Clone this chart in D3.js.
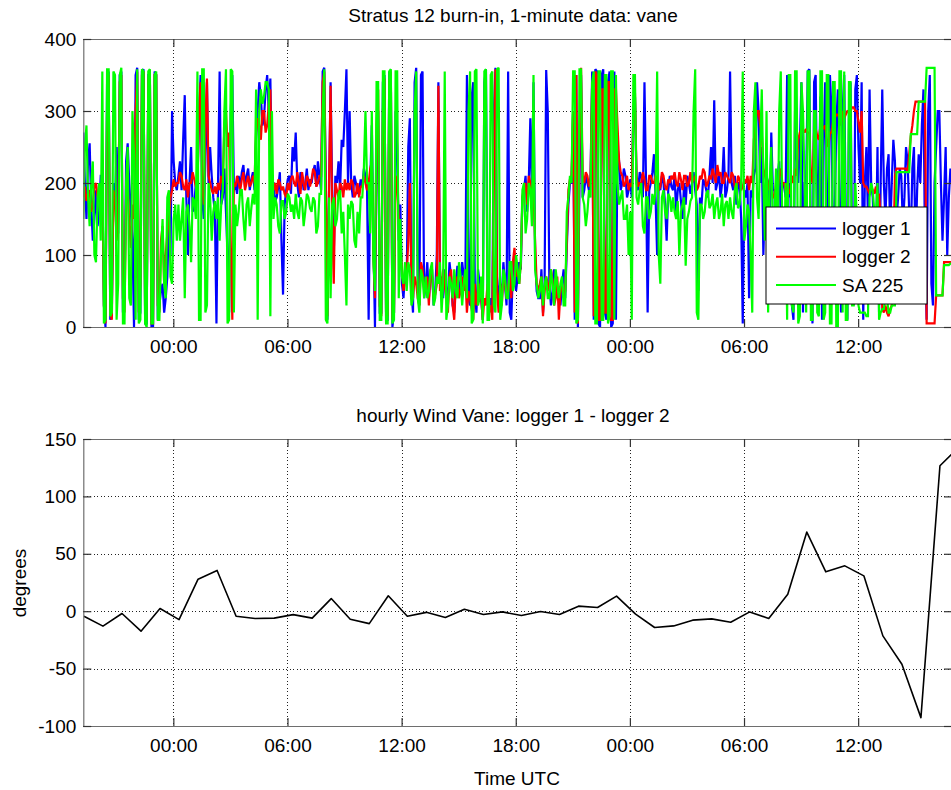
<!DOCTYPE html>
<html>
<head>
<meta charset="utf-8">
<script src="https://cdn.jsdelivr.net/npm/d3@7"></script>
<style>
  html, body { margin: 0; padding: 0; background: #fff; }
  svg { display: block; font-family: "Liberation Sans", Arial, Helvetica, sans-serif; }
</style>
</head>
<body>
<svg id="chart" width="951" height="790"></svg>
<script>
// ---------------- DATA ----------------
// 1-minute vane data read every 5 minutes, starting 19:16 UTC day 1 (degrees); one line = one hour
const seriesNames = ["logger 1", "logger 2", "SA 225"];
const seriesColors = ["#0000ff", "#ff0000", "#00ff00"];
const minuteStart = Date.UTC(2012, 0, 9, 19, 16);
const minuteStepMin = 5;

const logger1 = [
  270,200,150,230,255,170,120,150,190,140,160,210,
  210,30,0,340,355,10,20,200,170,250,130,350,
  355,20,40,230,255,200,160,120,0,350,360,10,
  20,355,358,5,5,350,350,0,0,355,350,10,
  30,50,60,20,40,70,150,100,300,230,200,190,
  210,230,190,260,322,180,100,200,250,160,170,200,
  200,290,350,180,150,230,340,200,250,210,180,160,
  5,200,355,170,180,220,160,100,20,300,350,190,
  200,185,210,195,215,225,195,210,220,190,205,215,
  190,260,300,340,320,280,290,330,350,300,345,200,
  200,175,180,195,215,120,45,170,190,205,210,185,
  250,230,270,200,180,215,210,190,200,220,190,205,
  200,215,225,195,230,210,190,355,360,200,10,180,
  340,190,100,210,200,230,190,260,250,300,358,200,
  300,200,180,210,200,185,190,205,195,220,210,190,
  10,200,280,120,0,250,300,20,20,340,350,10,
  10,355,350,0,20,300,250,120,170,60,40,80,
  60,250,290,50,20,340,360,60,30,350,355,40,
  60,90,40,70,80,30,50,100,340,60,70,40,
  80,50,40,90,70,30,20,60,85,50,60,90,
  70,60,350,40,30,320,340,50,20,80,60,40,
  10,340,358,60,30,40,20,300,360,70,40,60,
  40,90,60,30,355,20,10,80,100,50,70,90,
  80,180,190,210,160,200,290,180,340,100,50,40,
  40,80,20,60,357,300,60,30,50,80,70,40,
  50,30,60,80,40,110,170,200,200,300,10,350,
  0,200,350,180,190,210,200,190,210,355,10,358,
  355,5,0,350,358,20,10,340,355,0,5,355,
  10,250,230,190,200,220,210,180,190,205,180,300,
  320,200,190,215,210,180,340,200,20,190,200,215,
  240,180,100,200,190,210,200,170,120,190,210,195,
  190,210,160,190,200,175,150,200,170,210,200,185,
  200,215,190,170,50,180,170,205,200,190,180,210,
  250,200,315,190,200,215,180,200,250,180,190,210,
  355,200,190,210,170,200,200,150,5,190,180,200,
  40,190,180,210,220,340,300,200,250,100,180,210,
  200,150,270,190,190,60,210,230,150,200,200,180,
  350,180,200,30,10,300,240,200,250,340,20,200,
  200,355,358,100,5,340,350,150,200,320,10,250,
  340,200,100,350,300,80,150,280,330,200,20,300,
  350,150,10,300,340,100,30,330,350,250,200,340,
  10,200,250,150,330,200,180,120,100,250,20,200,
  330,200,150,220,240,130,200,260,230,150,180,220,
  210,140,180,250,230,160,120,220,250,100,190,240,
  200,280,330,100,10,300,350,60,30,200,250,300,
  300,200,120,180,250,100,180,220,200
];
const logger2 = [
  180,195,175,185,190,160,170,195,200,180,185,190,
  200,30,5,300,350,20,10,190,180,120,150,340,
  350,40,20,180,200,140,110,170,150,300,355,20,
  60,350,355,20,10,345,350,5,5,350,350,30,
  20,120,140,60,100,130,150,180,190,205,195,200,
  200,215,210,195,190,205,180,200,200,215,205,195,
  190,300,340,200,170,280,345,210,200,190,185,195,
  185,200,190,210,200,280,300,250,270,120,10,200,
  195,210,200,190,205,215,190,200,210,195,200,210,
  200,270,290,280,260,300,300,270,280,310,330,200,
  190,200,185,205,200,190,195,185,180,200,190,205,
  210,200,195,215,200,185,215,200,190,210,205,195,
  205,220,215,195,200,210,210,340,355,180,15,200,
  335,150,60,200,190,180,200,195,180,205,190,200,
  190,205,200,180,185,200,180,195,195,210,200,190,
  200,220,230,100,40,280,330,30,15,300,345,20,
  15,340,355,10,20,210,200,150,120,80,50,70,
  70,120,200,60,40,70,60,40,30,90,80,50,
  55,70,30,80,70,40,45,60,335,50,60,80,
  60,40,20,70,80,30,10,60,70,40,50,70,
  50,70,20,50,40,25,10,60,30,50,60,40,
  10,40,30,60,20,30,10,200,358,50,20,60,
  30,70,60,40,50,80,40,90,110,70,80,60,
  90,180,195,200,170,210,200,185,190,120,60,50,
  60,70,15,50,70,60,50,80,65,30,40,70,
  10,50,60,40,50,120,190,205,210,300,20,350,
  5,250,360,210,200,215,210,195,205,340,15,355,
  350,10,10,330,330,20,20,340,340,10,10,330,
  330,280,230,215,210,195,200,210,190,200,195,300,
  325,210,195,200,200,215,205,190,190,210,210,200,
  200,210,205,190,195,215,210,195,190,205,200,210,
  205,215,200,195,215,205,190,210,210,195,200,215,
  200,205,210,190,195,210,205,220,215,195,200,210,
  205,220,210,200,225,210,215,200,200,215,210,205,
  200,215,210,195,190,210,205,190,195,205,200,210,
  190,210,200,260,280,300,300,280,270,220,210,200,
  190,205,200,180,180,200,190,210,220,200,200,190,
  200,185,190,210,200,220,210,260,270,275,275,270,
  275,270,270,210,200,270,275,265,260,280,280,275,
  280,260,250,270,270,285,290,295,295,290,280,300,
  290,295,300,300,300,305,305,300,300,285,270,300,
  200,195,195,190,185,195,190,185,195,180,185,150,
  25,20,30,20,15,25,30,100,210,220,220,220,
  220,220,220,220,215,240,265,280,300,313,313,313,
  313,313,313,313,5,5,5,5,5,5,44,44,
  44,44,44,90,90,90,90,90,90
];
const sa225 = [
  150,250,280,180,140,200,230,100,90,180,200,120,
  355,5,10,358,358,15,20,355,350,10,60,350,
  360,5,5,200,250,40,30,300,240,10,358,5,
  10,358,355,5,0,355,358,5,5,350,355,10,
  10,100,150,60,40,180,190,70,60,150,170,120,
  170,120,150,180,40,160,170,140,90,180,175,150,
  355,10,10,358,358,20,30,200,180,120,160,175,
  150,180,120,170,190,300,358,5,10,358,355,20,
  170,140,160,190,190,150,120,170,180,140,165,185,
  170,330,10,300,330,310,320,340,340,330,15,300,
  150,180,170,140,130,175,175,150,160,185,180,160,
  170,150,185,160,150,180,175,140,160,185,180,165,
  160,180,175,130,140,185,185,300,358,10,5,180,
  40,170,180,140,150,185,190,130,160,100,30,170,
  150,175,170,120,110,160,130,180,180,220,300,200,
  200,130,300,90,50,340,340,10,10,355,355,5,
  5,355,358,5,10,355,355,40,150,70,60,90,
  50,90,80,30,40,300,355,40,20,80,70,40,
  70,40,50,80,90,30,40,70,60,90,20,60,
  355,10,30,70,60,40,80,50,40,90,70,30,
  60,80,40,300,355,5,10,355,358,30,40,70,
  5,355,358,10,10,350,355,30,20,358,360,10,
  30,80,70,40,40,90,90,50,60,100,80,60,
  90,190,200,130,150,200,190,140,350,80,60,40,
  50,70,30,60,70,40,40,80,60,30,80,60,
  40,60,70,30,30,160,180,210,200,355,355,5,
  10,358,358,180,170,140,160,190,180,340,355,5,
  5,355,355,10,10,350,350,5,15,355,355,10,
  350,200,170,180,190,150,150,170,100,160,10,350,
  350,180,170,190,200,140,130,180,180,150,160,185,
  170,190,355,100,60,180,190,160,150,185,180,160,
  180,160,150,175,100,160,170,180,85,150,160,175,
  180,300,358,20,10,170,170,150,160,185,190,165,
  170,185,150,170,180,150,160,185,140,170,175,150,
  180,160,150,190,200,165,170,200,355,120,140,170,
  160,100,20,300,340,180,150,250,330,200,120,300,
  20,200,250,130,150,220,90,300,355,120,60,200,
  10,350,350,30,20,355,355,5,15,340,300,200,
  20,355,355,10,10,300,300,20,15,355,355,10,
  20,350,350,5,5,340,340,0,0,355,355,20,
  355,10,10,340,340,30,30,200,150,30,20,20,
  20,20,15,15,180,200,190,160,150,200,10,20,
  25,25,40,40,20,20,30,30,30,215,215,215,
  215,215,215,215,215,215,268,268,268,268,268,313,
  313,313,313,313,360,360,360,360,360,360,44,44,
  44,44,44,86,86,86,86,88,88
];

// hourly difference logger 1 - logger 2 (degrees), starting 19:18 UTC day 1
const hourlyStart = Date.UTC(2012, 0, 9, 19, 18);
const hourlyDiff = [
  -4.4, -13, -2, -17.4, 2.3, -7.3, 27.9, 35.5, -4.4, -6.4, -6, -3, -6, 11, -7, -10.8,
  13.4, -4.4, -1, -5.5, 1.7, -2.9, -0.6, -3.8, -0.3, -2.9, 4.4, 3.2, 13.1, -2.6, -14.2,
  -12.8, -7.8, -6.7, -9.6, -0.6, -6.4, 14.8, 68.9, 34.3, 39.5, 30.8, -21.5, -46.2, -92.7,
  126.7, 143
];

const topYTicks = [0, 100, 200, 300, 400];
const bottomYTicks = [-100, -50, 0, 50, 100, 150];
const topTitle = "Stratus 12 burn-in, 1-minute data: vane";
const bottomTitle = "hourly Wind Vane: logger 1 - logger 2";
const xLabel = "Time UTC";
const yLabelBottom = "degrees";

// ---------------- LAYOUT ----------------
const svg = d3.select("#chart");
const FONT = 19;
const L = 83.3, R = 952;
const topBox = { t: 39, b: 327 };
const botBox = { t: 439, b: 726 };
const domainStart = new Date(minuteStart);
const domainEnd = new Date(minuteStart + (logger1.length - 1) * minuteStepMin * 60000);

const x = d3.scaleUtc().domain([domainStart, domainEnd]).range([L, R]);
const xTicks = x.ticks(d3.utcHour.every(6));
const fmt = d3.utcFormat("%H:%M");

function drawPanel(box, yScale, yTicks, id) {
  const g = svg.append("g");
  const grid = g.append("g").attr("stroke", "#222").attr("stroke-width", 1)
    .attr("stroke-dasharray", "1,2.5").attr("shape-rendering", "crispEdges");
  xTicks.forEach(t => grid.append("line")
    .attr("x1", Math.round(x(t)) + 0.5).attr("x2", Math.round(x(t)) + 0.5)
    .attr("y1", box.t).attr("y2", box.b));
  yTicks.forEach(v => grid.append("line")
    .attr("x1", L).attr("x2", R)
    .attr("y1", Math.round(yScale(v)) + 0.5).attr("y2", Math.round(yScale(v)) + 0.5));
  svg.append("clipPath").attr("id", id).append("rect")
    .attr("x", L).attr("y", box.t).attr("width", R - L).attr("height", box.b - box.t);
  return g;
}

function drawAxes(box, yScale, yTicks) {
  const g = svg.append("g");
  const tick = 8;
  const bottom = g.append("g").attr("transform", `translate(0,${box.b})`)
    .call(d3.axisBottom(x).tickValues(xTicks).tickFormat(fmt)
      .tickSizeInner(-tick).tickSizeOuter(0).tickPadding(12.5));
  const topA = g.append("g").attr("transform", `translate(0,${box.t})`)
    .call(d3.axisTop(x).tickValues(xTicks).tickFormat("")
      .tickSizeInner(-tick).tickSizeOuter(0));
  const left = g.append("g").attr("transform", `translate(${L},0)`)
    .call(d3.axisLeft(yScale).tickValues(yTicks).tickFormat(d => String(d))
      .tickSizeInner(-tick).tickSizeOuter(0).tickPadding(7));
  const right = g.append("g").attr("transform", `translate(${R},0)`)
    .call(d3.axisRight(yScale).tickValues(yTicks).tickFormat("")
      .tickSizeInner(-tick).tickSizeOuter(0));
  [bottom, topA, left, right].forEach(a => {
    a.select(".domain").attr("stroke", "#6e6e6e").attr("stroke-width", 1.2);
    a.selectAll(".tick line").attr("stroke", "#333").attr("stroke-width", 1.2);
    a.selectAll("text").attr("font-size", FONT).attr("fill", "#000")
      .attr("font-family", "Liberation Sans, Arial, sans-serif");
  });
}

// ---------------- TOP PANEL ----------------
const yTop = d3.scaleLinear().domain([0, 400]).range([topBox.b, topBox.t]);
drawPanel(topBox, yTop, topYTicks, "clipTop");
const minuteData = [logger1, logger2, sa225];
const lineTop = d3.line()
  .x((d, i) => x(new Date(minuteStart + i * minuteStepMin * 60000)))
  .y(d => yTop(d));
const dataTop = svg.append("g").attr("clip-path", "url(#clipTop)");
minuteData.forEach((arr, k) => {
  dataTop.append("path").datum(arr)
    .attr("d", lineTop).attr("fill", "none")
    .attr("stroke", seriesColors[k]).attr("stroke-width", 2.2)
    .attr("stroke-linejoin", "miter").attr("stroke-miterlimit", 2);
});
drawAxes(topBox, yTop, topYTicks);

// legend
const lg = svg.append("g");
lg.append("rect").attr("x", 766).attr("y", 207).attr("width", 161).attr("height", 97)
  .attr("fill", "#fff").attr("stroke", "#000").attr("stroke-width", 1);
seriesNames.forEach((n, k) => {
  const yy = 228.5 + k * 28.3;
  lg.append("line").attr("x1", 776).attr("x2", 836).attr("y1", yy).attr("y2", yy)
    .attr("stroke", seriesColors[k]).attr("stroke-width", 2);
  lg.append("text").attr("x", 842).attr("y", yy).attr("dy", "0.35em")
    .attr("font-size", FONT).text(n);
});

svg.append("text").attr("x", 513).attr("y", 22).attr("text-anchor", "middle")
  .attr("font-size", FONT).text(topTitle);

// ---------------- BOTTOM PANEL ----------------
const yBot = d3.scaleLinear().domain([-100, 150]).range([botBox.b, botBox.t]);
drawPanel(botBox, yBot, bottomYTicks, "clipBot");
const lineBot = d3.line()
  .x((d, i) => x(new Date(hourlyStart + i * 3600000)))
  .y(d => yBot(d));
svg.append("g").attr("clip-path", "url(#clipBot)")
  .append("path").datum(hourlyDiff).attr("d", lineBot)
  .attr("fill", "none").attr("stroke", "#000").attr("stroke-width", 1.6)
  .attr("stroke-linejoin", "round");
drawAxes(botBox, yBot, bottomYTicks);

svg.append("text").attr("x", 513).attr("y", 422).attr("text-anchor", "middle")
  .attr("font-size", FONT).text(bottomTitle);
svg.append("text").attr("x", 517).attr("y", 785).attr("text-anchor", "middle")
  .attr("font-size", FONT).text(xLabel);
svg.append("text").attr("transform", "translate(19,583) rotate(-90)")
  .attr("text-anchor", "middle").attr("dy", "0.35em")
  .attr("font-size", FONT).text(yLabelBottom);
</script>
</body>
</html>
